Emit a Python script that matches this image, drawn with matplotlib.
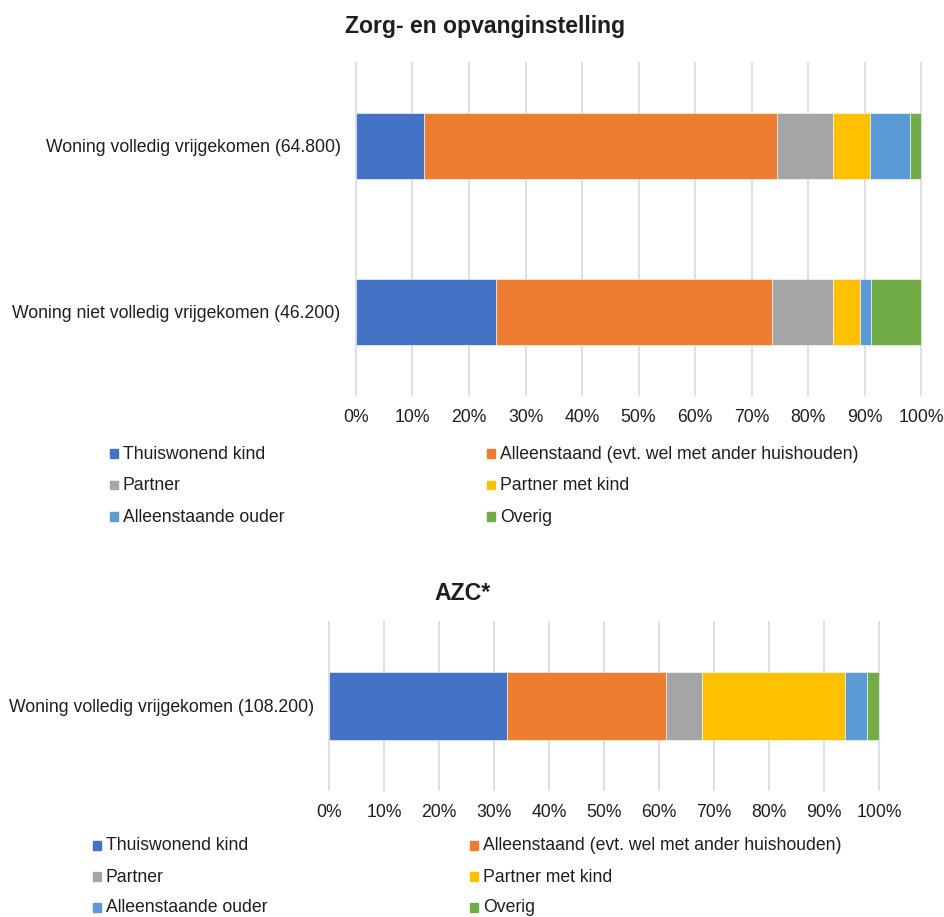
import matplotlib
matplotlib.use("Agg")
import matplotlib.pyplot as plt
from matplotlib.patches import Rectangle
import numpy as np

plt.rcParams['font.family'] = ['Liberation Sans', 'DejaVu Sans']

series = ["Thuiswonend kind", "Alleenstaand (evt. wel met ander huishouden)", "Partner",
          "Partner met kind", "Alleenstaande ouder", "Overig"]
colors = ["#4472C4", "#ED7D31", "#A5A5A5", "#FFC000", "#5B9BD5", "#70AD47"]

title1 = "Zorg- en opvanginstelling"
cats1 = ["Woning volledig vrijgekomen (64.800)", "Woning niet volledig vrijgekomen (46.200)"]
vals1 = {
    "Thuiswonend kind": [12.1, 24.7],
    "Alleenstaand (evt. wel met ander huishouden)": [62.4, 48.9],
    "Partner": [9.9, 10.9],
    "Partner met kind": [6.5, 4.7],
    "Alleenstaande ouder": [7.1, 2.0],
    "Overig": [2.0, 8.8],
}

title2 = "AZC*"
cats2 = ["Woning volledig vrijgekomen (108.200)"]
vals2 = {
    "Thuiswonend kind": [32.3],
    "Alleenstaand (evt. wel met ander huishouden)": [28.9],
    "Partner": [6.6],
    "Partner met kind": [26.0],
    "Alleenstaande ouder": [4.1],
    "Overig": [2.1],
}

ticks = np.arange(0, 101, 10)
tick_labels = [f"{t}%" for t in ticks]

W, H = 945, 917
fig = plt.figure(figsize=(W / 100, H / 100), dpi=100)
TXT = "#1e1e1e"
FS = 12.7


def ax_at(l, t, r, b):
    return fig.add_axes([l / W, 1 - b / H, (r - l) / W, (b - t) / H])


def draw(ax, cats, vals):
    y = np.arange(len(cats))
    left = np.zeros(len(cats))
    for s, c in zip(series, colors):
        v = np.array(vals[s])
        ax.barh(y, v, left=left, height=0.4, color=c, edgecolor="white", linewidth=0.4, zorder=3)
        left += v
    ax.set_xlim(0, 100)
    ax.set_ylim(len(cats) - 0.5, -0.5)
    ax.set_yticks(y)
    ax.set_yticklabels(cats, fontsize=FS, color=TXT)
    ax.set_xticks(ticks)
    ax.set_xticklabels(tick_labels, fontsize=FS, color=TXT)
    ax.tick_params(length=0)
    ax.tick_params(axis="x", pad=10)
    ax.tick_params(axis="y", pad=11)
    ax.grid(False)
    for t in ticks:
        ax.axvline(t, color="#d9d9d9", linewidth=1.2, zorder=0, clip_on=False)
    for sp in ax.spines.values():
        sp.set_visible(False)


ax1 = ax_at(356, 63, 921, 395)
draw(ax1, cats1, vals1)
fig.text(485 / W, 1 - 27 / H, title1, ha="center", va="center", fontsize=16.6,
         fontweight="bold", color=TXT)

ax2 = ax_at(329, 622, 879, 790)
draw(ax2, cats2, vals2)
fig.text(463 / W, 1 - 594 / H, title2, ha="center", va="center", fontsize=16.6,
         fontweight="bold", color=TXT)


def legend(x0, x1, y0, dy):
    for i, (s, c) in enumerate(zip(series, colors)):
        col = i % 2
        row = i // 2
        x = x0 if col == 0 else x1
        yy = y0 + row * dy
        fig.add_artist(Rectangle((x / W, 1 - (yy + 3.5) / H), 8.5 / W, 8.5 / H,
                                 transform=fig.transFigure, color=c))
        fig.text((x + 13) / W, 1 - yy / H, s, ha="left", va="center", fontsize=FS, color=TXT)


legend(110, 487, 454, 31.5)
legend(93, 470, 846, 31)

fig.savefig("out.png", dpi=100, facecolor="white")
